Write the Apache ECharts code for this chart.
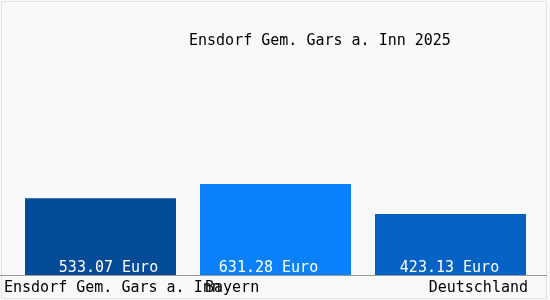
<!DOCTYPE html>
<html>
<head>
<meta charset="utf-8">
<script src="https://cdn.jsdelivr.net/npm/echarts@6/dist/echarts.min.js"></script>
<style>html,body{margin:0;padding:0;background:#f9f9f9;}#c{width:550px;height:300px;}</style>
</head>
<body>
<div id="c"></div>
<script>
const title = 'Ensdorf Gem. Gars a. Inn 2025';
const categories = ['Ensdorf Gem. Gars a. Inn', 'Bayern', 'Deutschland'];
const values = [533.07, 631.28, 423.13];
const unit = 'Euro';

const barColors = ['#034a97', '#0a80fb', '#0562c5'];
const labelOffsets = [8, -7, -1];
const richNames = ['a', 'b', 'c'];

const chart = echarts.init(document.getElementById('c'), null, {renderer: 'canvas'});
const font = '"DejaVu Sans Mono", "Liberation Mono", monospace';
chart.setOption({
  backgroundColor: '#f9f9f9',
  animation: false,
  title: {
    text: title, left: 184, top: 29,
    textStyle: {fontFamily: font, fontSize: 15, fontWeight: 'normal', color: '#000'}
  },
  grid: {left: 13, right: 12, top: 59, bottom: 25, containLabel: false},
  xAxis: {
    type: 'category',
    data: categories,
    axisLine: {show: true, lineStyle: {color: '#999', width: 1}},
    axisTick: {show: false},
    axisLabel: {
      interval: 0, margin: 6,
      formatter: (v, i) => '{' + richNames[i] + '|' + v + '}',
      rich: {
        a: {width: 193, align: 'left', fontFamily: font, fontSize: 15, color: '#000'},
        b: {width: 141, align: 'left', fontFamily: font, fontSize: 15, color: '#000'},
        c: {width: 155, align: 'right', fontFamily: font, fontSize: 15, color: '#000'}
      }
    }
  },
  yAxis: {type: 'value', min: 0, max: 1500, show: false, splitLine: {show: false}},
  series: [{
    type: 'bar',
    barWidth: 151,
    data: values.map((v, i) => ({
      value: v,
      itemStyle: {color: barColors[i]},
      label: {offset: [labelOffsets[i], 2]}
    })),
    label: {
      show: true, position: 'insideBottom', distance: 1,
      formatter: p => p.value.toFixed(2) + ' ' + unit,
      fontFamily: font, fontSize: 15, color: '#fff'
    }
  }],
  graphic: [
    {type: 'rect', shape: {x: 1.5, y: 1.5, width: 545, height: 297}, style: {fill: null, stroke: '#e2e2e2', lineWidth: 1}, silent: true},
    {type: 'line', shape: {x1: 0, y1: 275.5, x2: 547, y2: 275.5}, style: {stroke: '#999', lineWidth: 1}, silent: true}
  ]
});
</script>
</body>
</html>
